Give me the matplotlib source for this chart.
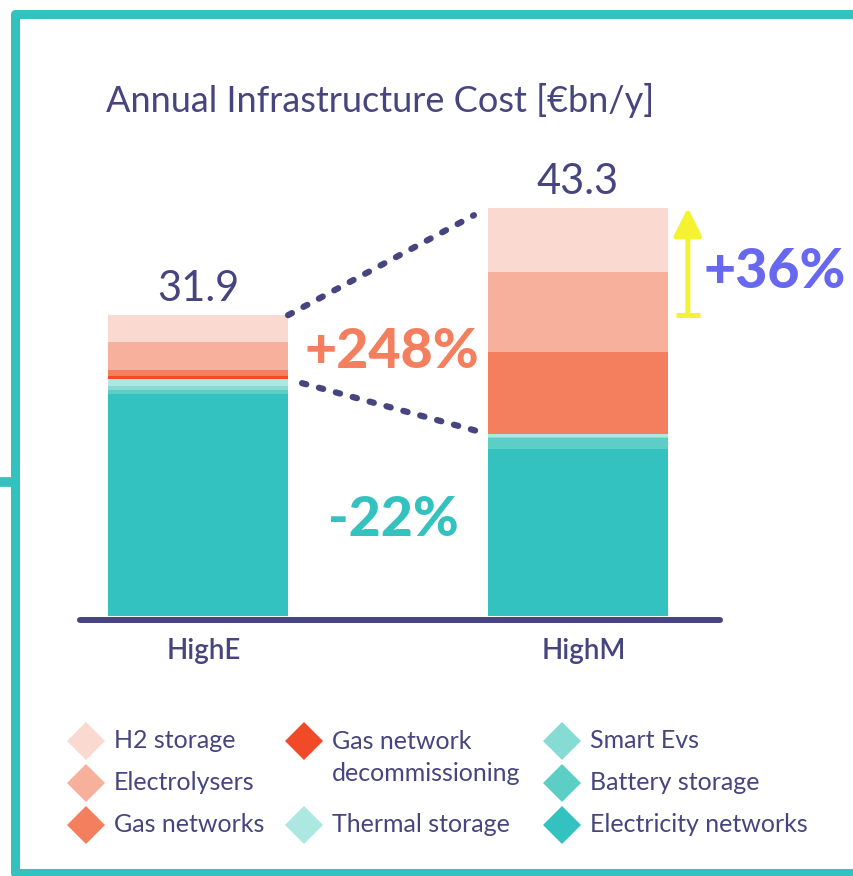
import matplotlib
matplotlib.use("Agg")
import matplotlib.pyplot as plt
import numpy as np

plt.rcParams['font.family'] = ['Lato', 'DejaVu Sans']

# data (top of the stack first, as in the legend)
components = ['H2 storage', 'Electrolysers', 'Gas networks',
              'Gas network\ndecommissioning', 'Thermal storage',
              'Smart Evs', 'Battery storage', 'Electricity networks']
colors = ['#FAD9D0', '#F7B09C', '#F47F5F', '#F04A28',
          '#ADE7E1', '#86DCD4', '#5CCEC6', '#33C2BF']
scenarios = ['HighE', 'HighM']
highE = [2.8, 3.0, 0.6, 0.4, 0.7, 0.4, 0.5, 23.5]
highM = [6.8, 8.5, 8.7, 0.0, 0.3, 0.1, 1.2, 17.7]
changes = ['+248%', '-22%', '+36%']

navy = '#46457F'
teal = '#33C2BF'
yellow = '#F5F230'
violet = '#6767F0'

fig = plt.figure(figsize=(8.54, 8.76), dpi=100)

# background layer for frame and legend, in pixels
lay = fig.add_axes([0, 0, 1, 1])
lay.set_xlim(0, 854)
lay.set_ylim(876, 0)
lay.axis('off')

lay.plot([854, 15, 15, 854], [14, 14, 873, 873], color=teal, lw=6.5,
         solid_joinstyle='round', solid_capstyle='butt')
lay.plot([0, 15], [482, 482], color=teal, lw=7, solid_capstyle='butt')

lay.text(106, 100, 'Annual Infrastructure Cost [€bn/y]', fontsize=26,
         color=navy, va='center', ha='left')

# main chart
ax = fig.add_axes([0, (876 - 660) / 876, 1, (660 - 150) / 876])
ax.patch.set_alpha(0)
ax.axis('off')
ax.set_xlim(-198 / 380, (854 - 198) / 380)
ax.set_ylim(-44 / 9.43, 466 / 9.43)

x = np.arange(len(scenarios))
width = 0.474
data = np.array([highE, highM])
bottom = np.zeros(2)
for i in range(len(components) - 1, -1, -1):
    ax.bar(x, data[:, i], width, bottom=bottom, color=colors[i], linewidth=0)
    bottom = bottom + data[:, i]
totals = data.sum(axis=1)

ax.plot([-0.31, 1.374], [-0.45, -0.45], color=navy, lw=4.3,
        solid_capstyle='round')

for xi, name, tot in zip(x, scenarios, totals):
    ax.text(xi + 0.015, -3.7, name, ha='center', va='center', fontsize=20,
            color=navy, fontweight='semibold')
    ax.annotate(f'{tot:.1f}', (xi, tot), xytext=(0, 5),
                textcoords='offset points', ha='center', va='bottom',
                fontsize=30, color=navy, fontweight='normal')

# dotted connectors
teal_top = data[:, 4:].sum(axis=1)
x0, x1 = width / 2, 1 - width / 2
def connector(y0, y1, t0, t1):
    xs = [x0 + t0 * (x1 - x0), x0 + t1 * (x1 - x0)]
    ys = [y0 + t0 * (y1 - y0), y0 + t1 * (y1 - y0)]
    ax.plot(xs, ys, color=navy, lw=4.5, dashes=(0.7, 2.1),
            dash_capstyle='round')

connector(totals[0], totals[1], 0.0, 0.93)
connector(teal_top[0], teal_top[1], 0.07, 0.97)

# change annotations
ax.text(0.511, 28.0, changes[0], ha='center', va='center', fontsize=40,
        fontweight='black', color='#F47F5F')
ax.text(0.513, 10.2, changes[1], ha='center', va='center', fontsize=40,
        fontweight='black', color=teal)
ax.text(1.518, 36.5, changes[2], ha='center', va='center', fontsize=40,
        fontweight='black', color=violet)

ax_x = 1.289
ax.annotate('', xy=(ax_x, totals[1]), xytext=(ax_x, totals[0]),
            arrowprops=dict(arrowstyle='-|>,head_length=1.7,head_width=0.85',
                            mutation_scale=10, lw=3.6, color=yellow,
                            shrinkA=0, shrinkB=0))
ax.plot([ax_x - 0.032, ax_x + 0.032], [totals[0], totals[0]], color=yellow,
        lw=3.6, solid_capstyle='butt')

# legend, laid out by hand in three columns
col_x = [86, 304, 562]
row_y = [741, 783, 825]
slots = [(0, 0), (0, 1), (0, 2), (1, 0), (1, 2), (2, 0), (2, 1), (2, 2)]
for name, c, (ci, ri) in zip(components, colors, slots):
    lay.plot(col_x[ci], row_y[ri], marker='D', markersize=19, color=c,
             markeredgewidth=0, linestyle='none')
    if '\n' in name:
        lay.text(col_x[ci] + 28, row_y[ri] - 11, name, fontsize=18,
                 color=navy, va='top', ha='left', linespacing=1.45)
    else:
        lay.text(col_x[ci] + 28, row_y[ri], name, fontsize=18, color=navy,
                 va='center', ha='left')

fig.savefig('out.png', dpi=100)
